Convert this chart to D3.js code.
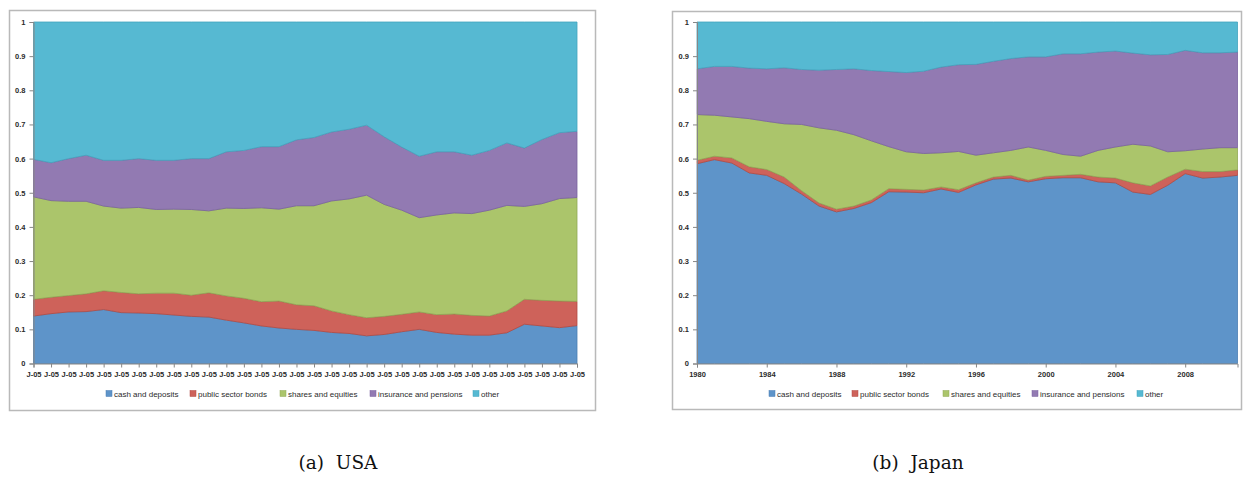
<!DOCTYPE html>
<html>
<head>
<meta charset="utf-8">
<script src="https://cdn.jsdelivr.net/npm/d3@7"></script>
<style>
  body { margin: 0; background: #fff; }
  svg { display: block; }
</style>
</head>
<body>
<svg id="chart" width="1247" height="477"></svg>
<script>
// series names and colours (legend order)
const seriesNames = ['cash and deposits', 'public sector bonds', 'shares and equities', 'insurance and pensions', 'other'];
const seriesColors = ['#5e94c9', '#ce625a', '#abc56b', '#927ab2', '#56b9d2'];
const seriesStrokes = ['#4a7db3', '#b14a43', '#8fa856', '#7a62a0', '#42a3bd'];

// USA: 32 observations, every label reads "J-05"
const usaLabels = Array(32).fill('J-05');
const usaCash      = [0.139,0.146,0.151,0.152,0.158,0.149,0.148,0.146,0.142,0.138,0.136,0.127,0.119,0.110,0.104,0.100,0.097,0.091,0.088,0.081,0.085,0.093,0.100,0.091,0.086,0.083,0.083,0.090,0.115,0.110,0.105,0.111];
const usaBonds     = [0.049,0.048,0.048,0.052,0.055,0.059,0.056,0.060,0.064,0.062,0.071,0.071,0.072,0.071,0.079,0.072,0.072,0.063,0.055,0.053,0.053,0.051,0.051,0.052,0.059,0.058,0.056,0.064,0.073,0.075,0.078,0.071];
const usaShares    = [0.300,0.283,0.276,0.271,0.248,0.247,0.253,0.245,0.246,0.251,0.240,0.257,0.263,0.275,0.269,0.290,0.293,0.322,0.339,0.359,0.328,0.305,0.276,0.292,0.296,0.298,0.310,0.309,0.272,0.283,0.300,0.304];
const usaInsurance = [0.110,0.111,0.125,0.135,0.134,0.140,0.143,0.144,0.143,0.149,0.153,0.165,0.170,0.179,0.183,0.193,0.200,0.202,0.204,0.205,0.198,0.185,0.180,0.185,0.179,0.171,0.175,0.183,0.171,0.188,0.193,0.194];
const usaOther     = [0.402,0.412,0.400,0.390,0.405,0.405,0.400,0.405,0.405,0.400,0.400,0.380,0.376,0.365,0.365,0.345,0.338,0.322,0.314,0.302,0.336,0.366,0.393,0.380,0.380,0.390,0.376,0.354,0.369,0.344,0.324,0.320];

// Japan: yearly 1980-2011
const japanYears = d3.range(1980, 2012);
const japanTicks = [1980, 1984, 1988, 1992, 1996, 2000, 2004, 2008];
const japanCash      = [0.585,0.597,0.587,0.558,0.551,0.527,0.496,0.461,0.444,0.454,0.471,0.503,0.502,0.500,0.511,0.501,0.523,0.540,0.543,0.532,0.541,0.544,0.544,0.532,0.529,0.502,0.495,0.522,0.556,0.543,0.546,0.551];
const japanBonds     = [0.010,0.010,0.015,0.018,0.017,0.019,0.010,0.009,0.008,0.007,0.008,0.009,0.008,0.008,0.006,0.008,0.006,0.006,0.008,0.005,0.007,0.007,0.010,0.014,0.014,0.027,0.025,0.024,0.013,0.019,0.016,0.016];
const japanShares    = [0.134,0.120,0.120,0.141,0.141,0.156,0.194,0.220,0.231,0.209,0.173,0.123,0.110,0.107,0.100,0.112,0.081,0.071,0.073,0.097,0.076,0.061,0.053,0.078,0.091,0.113,0.117,0.074,0.054,0.066,0.070,0.065];
const japanInsurance = [0.134,0.143,0.148,0.148,0.154,0.164,0.161,0.169,0.178,0.193,0.206,0.220,0.232,0.241,0.251,0.254,0.266,0.268,0.269,0.264,0.274,0.295,0.300,0.288,0.281,0.267,0.267,0.285,0.294,0.282,0.278,0.280];
const japanOther     = [0.137,0.130,0.130,0.135,0.137,0.134,0.139,0.141,0.139,0.137,0.142,0.145,0.148,0.144,0.132,0.125,0.124,0.115,0.107,0.102,0.102,0.093,0.093,0.088,0.085,0.091,0.096,0.095,0.083,0.090,0.090,0.088];

// y tick labels shared by both panels
const yTickValues = [0, 0.1, 0.2, 0.3, 0.4, 0.5, 0.6, 0.7, 0.8, 0.9, 1];
const yTickLabels = ['0', '0.1', '0.2', '0.3', '0.4', '0.5', '0.6', '0.7', '0.8', '0.9', '1'];

const svg = d3.select('#chart');
const keys = ['cash', 'bonds', 'shares', 'insurance', 'other'];
const labelFont = '"Liberation Sans", Arial, sans-serif';

function buildRows(xs, cols) {
    return xs.map((x, i) => ({
        x: x,
        cash: cols[0][i], bonds: cols[1][i], shares: cols[2][i],
        insurance: cols[3][i], other: cols[4][i]
    }));
}

function drawPanel(opts) {
    const g = svg.append('g');
    const { frame, plot, rows, x, xAxis } = opts;

    // outer chart frame
    g.append('rect')
        .attr('x', frame.x + 0.5).attr('y', frame.y + 0.5)
        .attr('width', frame.w).attr('height', frame.h)
        .attr('fill', '#fff').attr('stroke', '#b9b9b9').attr('stroke-width', 1.5);

    const y = d3.scaleLinear().domain([0, 1]).range([plot.bottom, plot.top]);

    const stacked = d3.stack().keys(keys)(rows);
    const area = d3.area()
        .x(d => x(d.data.x))
        .y0(d => y(d[0]))
        .y1(d => y(d[1]));

    g.selectAll('path.layer')
        .data(stacked)
        .enter()
        .append('path')
        .attr('class', 'layer')
        .attr('d', area)
        .attr('fill', (d, i) => seriesColors[i])
        .attr('stroke', (d, i) => seriesStrokes[i])
        .attr('stroke-width', 0.8)
        .attr('stroke-linejoin', 'round');

    // y axis
    const yAxisG = g.append('g')
        .attr('transform', `translate(${plot.left},0)`)
        .call(d3.axisLeft(y).tickValues(yTickValues)
            .tickFormat((d, i) => yTickLabels[i]).tickSize(4).tickPadding(4));
    // x axis
    const xAxisG = g.append('g')
        .attr('transform', `translate(0,${plot.bottom})`)
        .call(xAxis);

    [yAxisG, xAxisG].forEach(a => {
        a.select('.domain').attr('stroke', '#868686');
        a.selectAll('.tick line').attr('stroke', '#868686');
        a.selectAll('.tick text')
            .attr('font-family', labelFont)
            .attr('font-size', '7.5px')
            .attr('font-weight', 'bold')
            .attr('fill', '#2b2b2b');
    });

    // legend
    const lg = g.append('g').attr('transform', `translate(0,${opts.legendY})`);
    seriesNames.forEach((name, i) => {
        const lx = opts.legendX[i];
        lg.append('rect')
            .attr('x', lx).attr('y', -3.5).attr('width', 6).attr('height', 6)
            .attr('fill', seriesColors[i]).attr('stroke', seriesStrokes[i]).attr('stroke-width', 0.5);
        lg.append('text')
            .attr('x', lx + 8).attr('y', 2.5)
            .attr('font-family', labelFont).attr('font-size', '8px')
            .attr('fill', '#2b2b2b')
            .text(name);
    });

    // caption
    svg.append('text')
        .attr('x', opts.captionX).attr('y', 469)
        .attr('text-anchor', 'middle')
        .attr('font-family', '"DejaVu Serif", "Liberation Serif", serif')
        .attr('font-size', '18.5px')
        .attr('fill', '#111')
        .attr('xml:space', 'preserve')
        .text(opts.caption);
}

// ---- USA panel ----
const usaRows = buildRows(d3.range(usaLabels.length), [usaCash, usaBonds, usaShares, usaInsurance, usaOther]);
const usaX = d3.scalePoint().domain(d3.range(usaLabels.length)).range([33.5, 577]);
drawPanel({
    frame: { x: 9, y: 10, w: 586, h: 400 },
    plot: { left: 33.5, right: 577, top: 22, bottom: 363.5 },
    rows: usaRows,
    x: d => usaX(d),
    xAxis: d3.axisBottom(usaX).tickFormat(i => usaLabels[i]).tickSize(4).tickPadding(4),
    legendY: 394,
    legendX: [106, 190, 280, 370, 473],
    captionX: 338,
    caption: '(a)  USA'
});

// ---- Japan panel ----
const japanRows = buildRows(japanYears, [japanCash, japanBonds, japanShares, japanInsurance, japanOther]);
const japanX = d3.scaleLinear().domain([1980, 2011]).range([697, 1237.5]);
drawPanel({
    frame: { x: 672, y: 11, w: 569, h: 398 },
    plot: { left: 697, right: 1237.5, top: 22, bottom: 363.5 },
    rows: japanRows,
    x: japanX,
    xAxis: d3.axisBottom(japanX).tickValues(japanTicks).tickFormat(d3.format('d')).tickSize(4).tickPadding(4),
    legendY: 394,
    legendX: [769, 852, 943, 1032, 1137],
    captionX: 918,
    caption: '(b)  Japan'
});
</script>
</body>
</html>
